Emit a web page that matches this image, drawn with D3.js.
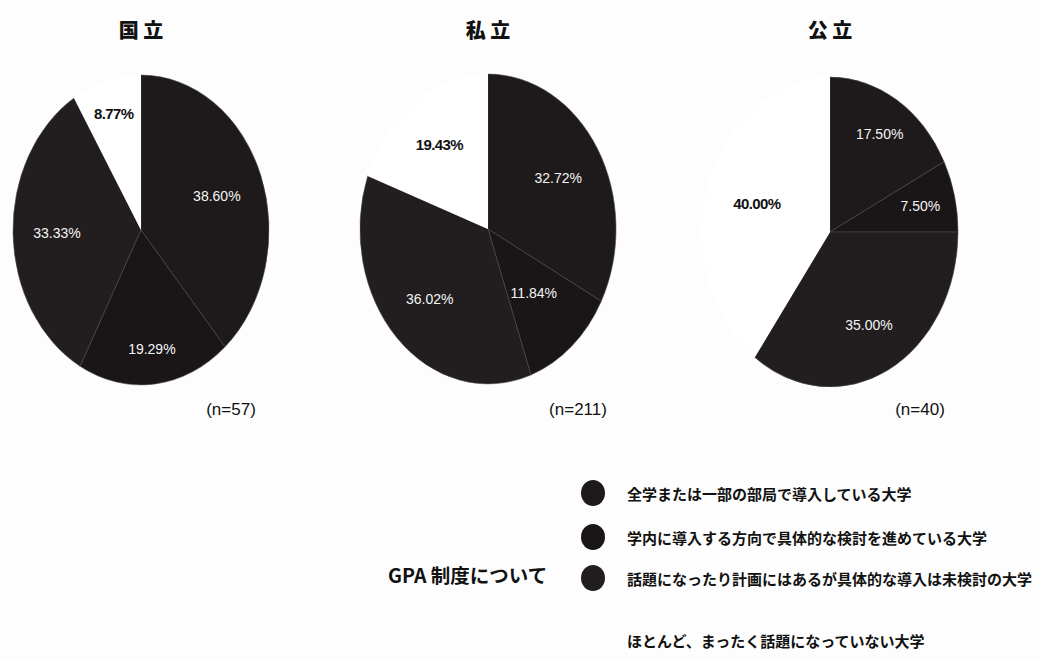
<!DOCTYPE html>
<html><head><meta charset="utf-8">
<script src="https://cdn.jsdelivr.net/npm/d3@7/dist/d3.min.js"></script>
<style>
html,body{margin:0;padding:0;background:#fff;}
svg{display:block;}
</style></head>
<body>
<svg id="chart" width="1040" height="661"></svg>
<script>
// ---- data ----
const categories = [
  "全学または一部の部局で導入している大学",
  "学内に導入する方向で具体的な検討を進めている大学",
  "話題になったり計画にはあるが具体的な導入は未検討の大学",
  "ほとんど、まったく話題になっていない大学"
];
const chartTitles = ["国 立", "私 立", "公 立"];
const sampleLabels = ["(n=57)", "(n=211)", "(n=40)"];
const kokuritsu = [38.60, 19.29, 33.33, 8.77];
const shiritsu  = [32.72, 11.84, 36.02, 19.43];
const kouritsu  = [17.50, 7.50, 35.00, 40.00];
const legendTitle = "GPA 制度について";

// ---- layout ----
const W = 1040, H = 661;
const centersX = [141, 488, 830];
const centerY = [230, 229, 232];
const rx = 128, ryScale = 1.21;
const labelR = [[81, 99, 84, 100], [82, 70, 82, 85], [95, 93, 86, 77]];
const sliceFill = ["#1e1a1b", "#1a1617", "#221e1f", "#ffffff"];
const labelFill = ["#f4f4f4", "#f4f4f4", "#f4f4f4", "#111111"];

const svg = d3.select("#chart");
svg.append("rect").attr("width", W).attr("height", H).attr("fill", "#fdfdfd");

const series = [kokuritsu, shiritsu, kouritsu];
const pie = d3.pie().sort(null).value(d => d);
const arc = d3.arc().innerRadius(0).outerRadius(rx);

series.forEach((vals, i) => {
  const g = svg.append("g").attr("transform", `translate(${centersX[i]},${centerY[i]})`);
  const inner = g.append("g").attr("transform", `scale(1,${ryScale})`);
  const arcs = pie(vals);
  inner.selectAll("path").data(arcs).join("path")
    .attr("d", arc)
    .attr("fill", (d, j) => sliceFill[j])
    .attr("stroke", (d, j) => j === 3 ? "none" : "#4a4647")
    .attr("stroke-width", 0.6)
    .attr("vector-effect", "non-scaling-stroke");
  // labels
  g.selectAll("text.val").data(arcs).join("text")
    .attr("class", "val")
    .each(function(d, j) {
      const a = (d.startAngle + d.endAngle) / 2;
      const r = labelR[i][j];
      const x = Math.sin(a) * r, y = -Math.cos(a) * r * ryScale;
      d3.select(this).attr("x", x).attr("y", y);
    })
    .attr("text-anchor", "middle")
    .attr("dominant-baseline", "central")
    .attr("font-family", "'Liberation Sans Narrow','Liberation Sans',Arial,sans-serif")
    .attr("font-weight", (d, j) => j === 3 ? "bold" : "normal")
    .attr("font-size", (d, j) => j === 3 ? 15 : 14)
    .attr("letter-spacing", (d, j) => j === 3 ? -0.6 : 0)
    .attr("fill", (d, j) => labelFill[j])
    .text(d => d.data.toFixed(2) + "%");
  // title
  svg.append("text")
    .attr("x", centersX[i]).attr("y", 38)
    .attr("text-anchor", "middle")
    .attr("font-family", "'Noto Sans CJK JP',sans-serif")
    .attr("font-weight", 900)
    .attr("font-size", 20)
    .attr("fill", "#111")
    .text(chartTitles[i]);
  // n label
  svg.append("text")
    .attr("x", centersX[i] + 90).attr("y", 415)
    .attr("text-anchor", "middle")
    .attr("font-family", "'Liberation Sans',Arial,sans-serif")
    .attr("font-size", 17)
    .attr("fill", "#111")
    .text(sampleLabels[i]);
});

// legend
const legendY = [493, 537, 578, 640];
const lg = svg.append("g");
categories.forEach((c, j) => {
  if (j < 3) {
    lg.append("ellipse")
      .attr("cx", 593).attr("cy", legendY[j])
      .attr("rx", 12).attr("ry", 13)
      .attr("fill", sliceFill[j]);
  }
  lg.append("text")
    .attr("x", 627).attr("y", legendY[j])
    .attr("dominant-baseline", "central")
    .attr("font-family", "'Noto Sans CJK JP',sans-serif")
    .attr("font-weight", 700)
    .attr("font-size", 15)
    .attr("fill", "#111")
    .text(c);
});
svg.append("text")
  .attr("x", 388).attr("y", 574)
  .attr("dominant-baseline", "central")
  .attr("font-family", "'Noto Sans CJK JP',sans-serif")
  .attr("font-weight", 700)
  .attr("font-size", 19.5)
  .attr("fill", "#111")
  .text(legendTitle);
</script>
</body></html>
